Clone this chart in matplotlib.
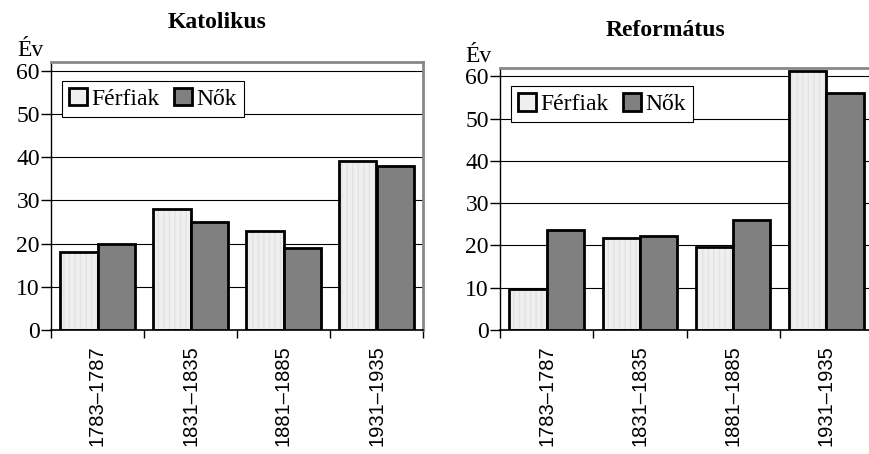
import matplotlib
matplotlib.use("Agg")
import matplotlib.pyplot as plt
from matplotlib.patches import Patch
import numpy as np

categories = ["1783–1787", "1831–1835", "1881–1885", "1931–1935"]
series_names = ["Férfiak", "Nők"]
kat_ferfi = [18, 28, 23, 39]
kat_no = [20, 25, 19, 38]
ref_ferfi = [9.6, 21.7, 19.6, 61.4]
ref_no = [23.7, 22.3, 26.0, 56.2]
yticks = [0, 10, 20, 30, 40, 50, 60]

SERIF = "Liberation Serif"
SANS = "Liberation Sans"
LIGHT = "#efefef"
DARK = "#808080"

fig = plt.figure(figsize=(8.69, 4.54), dpi=100)

def draw(ax, fvals, nvals):
    x = np.arange(len(categories))
    w = 0.4
    ax.set_xlim(-0.5, len(categories) - 0.5)
    ax.set_ylim(0, 62)
    for v in yticks[1:]:
        ax.axhline(v, color="black", lw=0.8, zorder=1)
    ax.bar(x - w / 2, fvals, w, color=LIGHT, edgecolor="#e2e2e2", hatch="|||",
           linewidth=0, zorder=2)
    ax.bar(x - w / 2, fvals, w, fill=False, edgecolor="black", linewidth=2, zorder=3)
    ax.bar(x + w / 2, nvals, w, color=DARK, edgecolor="black", linewidth=2, zorder=3)
    ax.set_yticks(yticks)
    ax.set_yticklabels([str(t) for t in yticks], fontfamily=SERIF, fontsize=17)
    ax.tick_params(axis="y", direction="out", length=7, width=1, pad=1)
    ax.set_xticks(np.arange(-0.5, len(categories), 1.0))
    ax.set_xticklabels([])
    ax.tick_params(axis="x", which="major", direction="out", length=6, width=1)
    ax.set_xticks(x, minor=True)
    ax.set_xticklabels(categories, minor=True, rotation=90, fontfamily=SANS,
                       fontsize=14.5, va="top")
    ax.tick_params(axis="x", which="minor", length=0, pad=11)
    for s in ("top", "right"):
        ax.spines[s].set_color("#888888")
        ax.spines[s].set_linewidth(2)
    ax.spines["left"].set_color("black")
    ax.spines["left"].set_linewidth(1)
    ax.spines["bottom"].set_color("black")
    ax.spines["bottom"].set_linewidth(1.2)
    handles = [Patch(facecolor=LIGHT, edgecolor="black", linewidth=2),
               Patch(facecolor=DARK, edgecolor="black", linewidth=2)]
    leg = ax.legend(handles, series_names, loc="upper left", bbox_to_anchor=(0.03, 0.93),
                    ncol=2, frameon=True, fancybox=False, framealpha=1,
                    edgecolor="black", prop={"family": SERIF, "size": 17},
                    handlelength=0.75, handleheight=0.75, handletextpad=0.2,
                    columnspacing=0.6, borderpad=0.3, borderaxespad=0)
    leg.get_frame().set_linewidth(0.8)
    leg.set_zorder(5)

ax1 = fig.add_axes([51 / 869, 1 - 330 / 454, 372 / 869, 268 / 454])
draw(ax1, kat_ferfi, kat_no)
ax2 = fig.add_axes([500 / 869, 1 - 330 / 454, 373 / 869, 262 / 454])
draw(ax2, ref_ferfi, ref_no)

fig.text(217 / 869, 1 - 22 / 454, "Katolikus", ha="center", va="center",
         fontfamily=SERIF, fontsize=17, fontweight="bold")
fig.text(665 / 869, 1 - 30 / 454, "Református", ha="center", va="center",
         fontfamily=SERIF, fontsize=17, fontweight="bold")
fig.text(17 / 869, 1 - 50 / 454, "Év", ha="left", va="center",
         fontfamily=SERIF, fontsize=17)
fig.text(465 / 869, 1 - 57 / 454, "Év", ha="left", va="center",
         fontfamily=SERIF, fontsize=17)

fig.savefig("out.png", dpi=100)
